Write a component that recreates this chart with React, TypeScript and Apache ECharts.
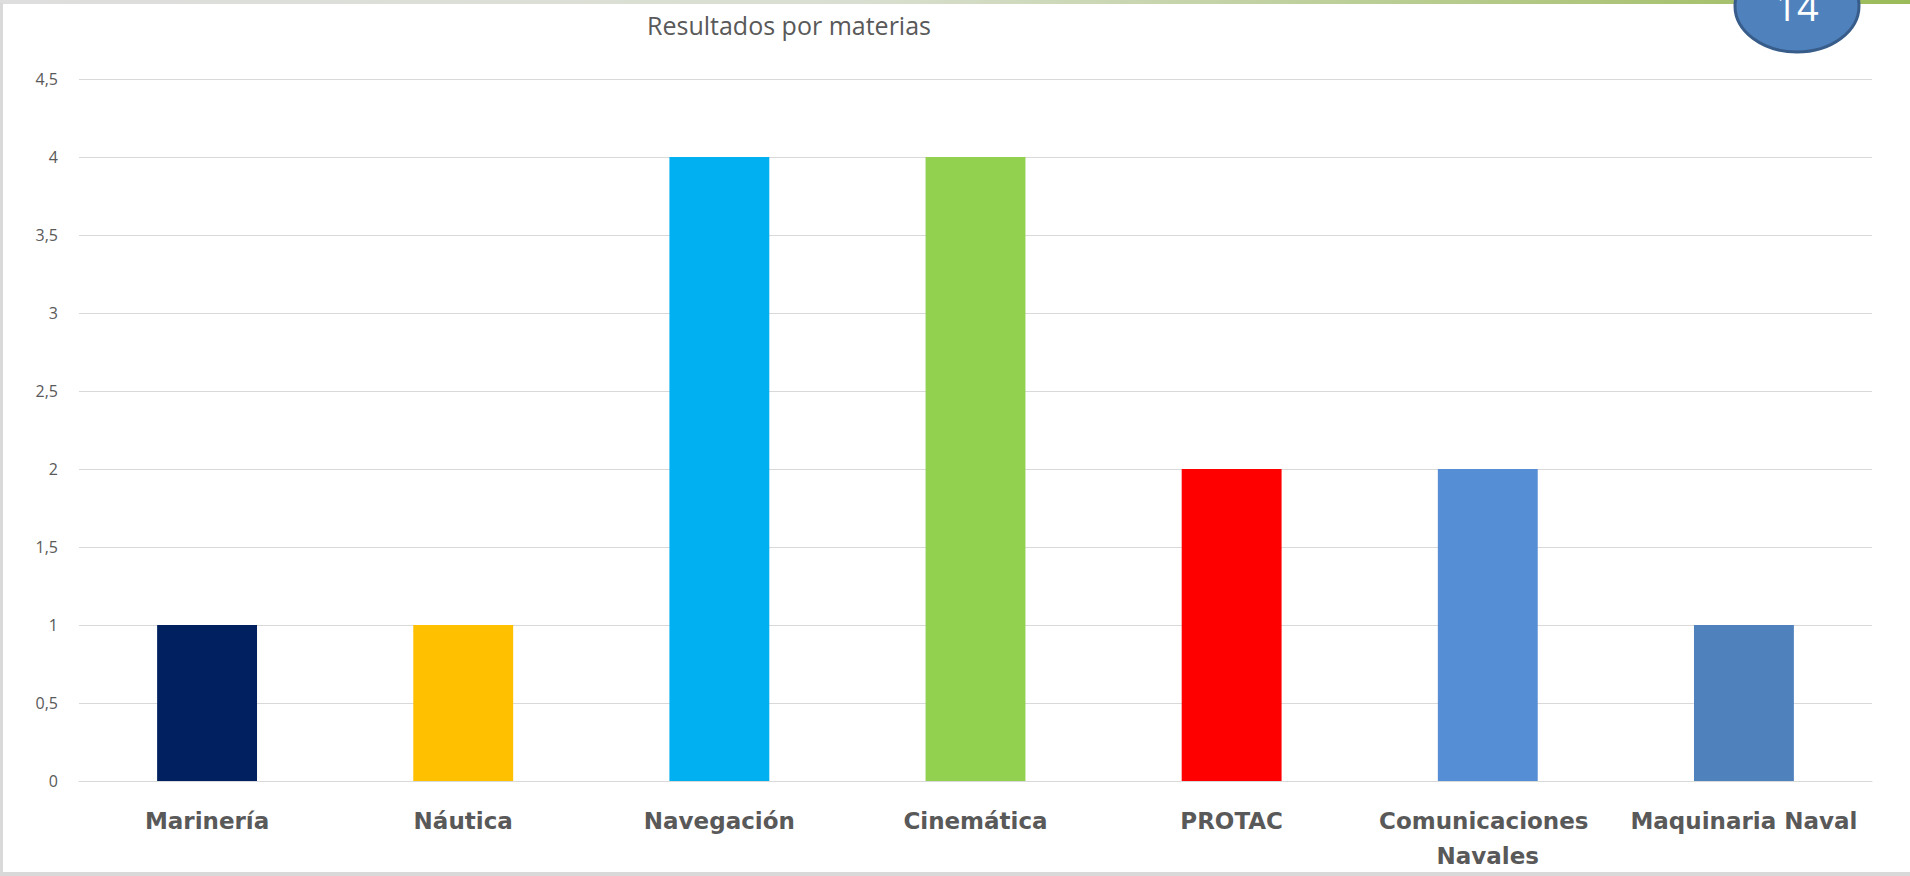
import React, { useEffect, useRef } from "react";
import * as echarts from "echarts";

const title = "Resultados por materias";
const categories = [
  "Marinería",
  "Náutica",
  "Navegación",
  "Cinemática",
  "PROTAC",
  "Comunicaciones Navales",
  "Maquinaria Naval",
];
const values = [1, 1, 4, 4, 2, 2, 1];
const barColors = ["#002060", "#FFC000", "#00B0F0", "#92D050", "#FF0000", "#558ED5", "#4F81BD"];
const yTickLabels = ["0", "0,5", "1", "1,5", "2", "2,5", "3", "3,5", "4", "4,5"];
const badgeText = "14";

export default function App() {
  const ref = useRef<HTMLDivElement>(null);
  useEffect(() => {
    if (!ref.current) return;
    const chart = echarts.init(ref.current, null, { renderer: "svg" });
    chart.setOption({
      animation: false,
      backgroundColor: "#ffffff",
      title: {
        text: title,
        left: 784,
        top: 7,
        textAlign: "center",
        textStyle: {
          fontFamily: "Open Sans",
          fontWeight: "normal",
          fontSize: 25,
          color: "#595959",
        },
      },
      grid: { left: 79, right: 38, top: 79, bottom: 95, containLabel: false },
      xAxis: {
        type: "category",
        data: categories,
        axisTick: { show: false },
        axisLine: { show: true, lineStyle: { color: "#d9d9d9", width: 1 } },
        axisLabel: {
          interval: 0,
          margin: 22,
          width: 255,
          overflow: "break",
          lineHeight: 35,
          color: "#595959",
          fontFamily: "DejaVu Sans",
          fontWeight: "bold",
          fontSize: 23,
        },
      },
      yAxis: {
        type: "value",
        min: 0,
        max: 4.5,
        interval: 0.5,
        axisLine: { show: false },
        axisTick: { show: false },
        splitLine: { lineStyle: { color: "#d9d9d9", width: 1 } },
        axisLabel: {
          margin: 21,
          color: "#595959",
          fontFamily: "Open Sans",
          fontSize: 16,
          formatter: (v: number) => yTickLabels[Math.round(v * 2)] ?? "",
        },
      },
      series: [
        {
          type: "bar",
          barWidth: "39%",
          data: values.map((v, i) => ({
            value: v,
            itemStyle: { color: barColors[i] },
          })),
        },
      ],
      graphic: [
        {
          type: "rect",
          shape: { x: 0, y: 0, width: 1910, height: 4 },
          style: {
            fill: new echarts.graphic.LinearGradient(0, 0, 1, 0, [
              { offset: 0, color: "#dedede" },
              { offset: 0.45, color: "#d9dfd0" },
              { offset: 1, color: "#9bbb59" },
            ]),
          },
          z: 10,
        },
        {
          type: "rect",
          shape: { x: 0, y: 3, width: 3, height: 873 },
          style: { fill: "#d9d9d9" },
          z: 10,
        },
        {
          type: "rect",
          shape: { x: 0, y: 872, width: 1910, height: 4 },
          style: { fill: "#d9d9d9" },
          z: 10,
        },
        {
          type: "ellipse",
          shape: { cx: 1797, cy: 6, rx: 62, ry: 46 },
          style: { fill: "#4F81BD", stroke: "#385D8A", lineWidth: 3 },
          z: 20,
        },
        {
          type: "text",
          x: 1797,
          y: 6,
          style: {
            text: badgeText,
            fill: "#ffffff",
            fontSize: 38,
            fontFamily: "Open Sans",
            align: "center",
            verticalAlign: "middle",
          },
          z: 21,
        },
      ],
    });
    return () => chart.dispose();
  }, []);
  return (
    <div
      ref={ref}
      style={{ position: "fixed", left: 0, top: 0, width: 1910, height: 876 }}
    />
  );
}
